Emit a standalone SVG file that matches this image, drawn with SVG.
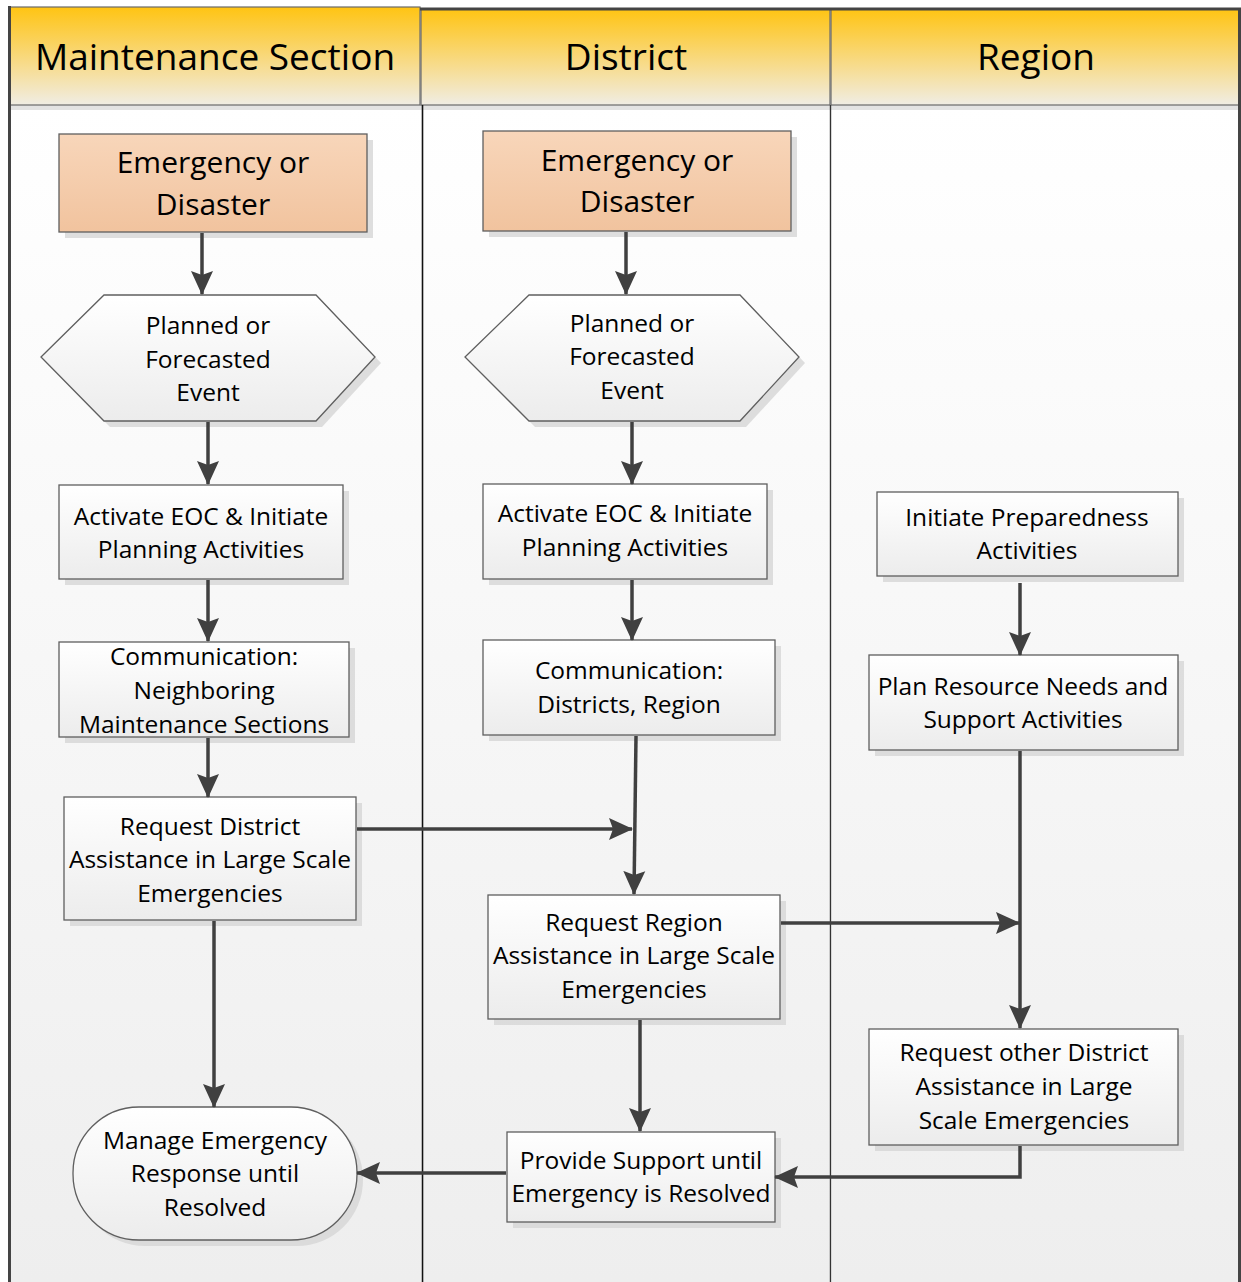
<svg xmlns="http://www.w3.org/2000/svg" width="1241" height="1282" viewBox="0 0 1241 1282">
<style>
.hdr{font-family:"Open Sans","Noto Sans",sans-serif;font-size:37px;fill:#000;text-anchor:middle}
.t{font-family:"Open Sans","Noto Sans",sans-serif;font-size:24.5px;fill:#000;text-anchor:middle}
.tb{font-family:"Open Sans","Noto Sans",sans-serif;font-size:30px;fill:#000;text-anchor:middle}
.box{fill:url(#nodeGrad);stroke:#5f5f5f;stroke-width:1.3}
.start{fill:url(#startGrad);stroke:#5f5f5f;stroke-width:1.3}
.sh{fill:#d6d6d6;opacity:0.8}
.conn{fill:none;stroke:#404040;stroke-width:3.5;marker-end:url(#arr)}
.lane{fill:url(#laneGrad)}
.head{fill:url(#headGrad)}
</style>
<defs>
<linearGradient id="laneGrad" x1="0" y1="0" x2="0" y2="1">
<stop offset="0" stop-color="#ffffff"/>
<stop offset="1" stop-color="#eeeeee"/>
</linearGradient>
<linearGradient id="headGrad" x1="0" y1="0" x2="0" y2="1">
<stop offset="0" stop-color="#ffc413"/>
<stop offset="0.6" stop-color="#f7dc8f"/>
<stop offset="1" stop-color="#f0ede4"/>
</linearGradient>
<linearGradient id="nodeGrad" x1="0" y1="0" x2="0" y2="1">
<stop offset="0" stop-color="#ffffff"/>
<stop offset="1" stop-color="#ececec"/>
</linearGradient>
<linearGradient id="startGrad" x1="0" y1="0" x2="0" y2="1">
<stop offset="0" stop-color="#f8d6ba"/>
<stop offset="1" stop-color="#f1c39e"/>
</linearGradient>
<marker id="arr" viewBox="0 0 24 24" refX="23" refY="12" markerWidth="24" markerHeight="24" markerUnits="userSpaceOnUse" orient="auto">
<path d="M0,1 L24,12 L0,23 L4,12 z" fill="#404040"/>
</marker>
</defs>

<g id="background">
<rect x="0" y="0" width="1241" height="1282" fill="#ffffff"/>
<rect class="lane" x="10" y="105" width="411" height="1177"/>
<rect class="lane" x="423" y="105" width="407" height="1177"/>
<rect class="lane" x="832" y="105" width="408" height="1177"/>
<rect x="10" y="105" width="1230" height="5" fill="#e3e3e3"/>
</g>

<g id="lane-maintenance">
<rect class="head" x="9" y="7" width="411" height="98" stroke="#6a6a6a" stroke-width="1.2"/>
<text class="hdr" x="215" y="70">Maintenance Section</text>
</g>
<g id="lane-district">
<rect class="head" x="421" y="9" width="409" height="96" stroke="#6a6a6a" stroke-width="1.2"/>
<text class="hdr" x="626" y="70">District</text>
</g>
<g id="lane-region">
<rect class="head" x="831" y="9" width="409" height="96" stroke="#6a6a6a" stroke-width="1.2"/>
<text class="hdr" x="1036" y="70">Region</text>
</g>

<g id="frame">
<line x1="420" y1="9" x2="1241" y2="9" stroke="#444" stroke-width="3"/>
<line x1="9.5" y1="6" x2="9.5" y2="1282" stroke="#444" stroke-width="3"/>
<line x1="1239.5" y1="8" x2="1239.5" y2="1282" stroke="#444" stroke-width="3"/>
<line x1="422.5" y1="105" x2="422.5" y2="1282" stroke="#111" stroke-width="1.6"/>
<line x1="830.5" y1="105" x2="830.5" y2="1282" stroke="#333" stroke-width="1.4"/>
</g>

<g id="ms-emergency">
<rect class="sh" x="65" y="140" width="308" height="98"/>
<rect class="start" x="59" y="134" width="308" height="98"/>
<text class="tb" x="213" y="173">Emergency or</text>
<text class="tb" x="213" y="215">Disaster</text>
</g>
<g id="ms-planned">
<polygon class="sh" points="47,363 110,301 322,301 381,363 322,427 110,427"/>
<polygon class="box" points="41,357 104,295 316,295 375,357 316,421 104,421"/>
<text class="t" x="208" y="334">Planned or</text>
<text class="t" x="208" y="368">Forecasted</text>
<text class="t" x="208" y="401">Event</text>
</g>
<g id="ms-activate">
<rect class="sh" x="65" y="491" width="284" height="94"/>
<rect class="box" x="59" y="485" width="284" height="94"/>
<text class="t" x="201" y="525">Activate EOC &amp; Initiate</text>
<text class="t" x="201" y="558">Planning Activities</text>
</g>
<g id="ms-communication">
<rect class="sh" x="65" y="648" width="290" height="95"/>
<rect class="box" x="59" y="642" width="290" height="95"/>
<text class="t" x="204" y="665">Communication:</text>
<text class="t" x="204" y="699">Neighboring</text>
<text class="t" x="204" y="733">Maintenance Sections</text>
</g>
<g id="ms-request">
<rect class="sh" x="70" y="803" width="292" height="123"/>
<rect class="box" x="64" y="797" width="292" height="123"/>
<text class="t" x="210" y="835">Request District</text>
<text class="t" x="210" y="868">Assistance in Large Scale</text>
<text class="t" x="210" y="902">Emergencies</text>
</g>
<g id="ms-manage">
<rect class="sh" x="79" y="1113" width="284" height="133" rx="66" ry="66"/>
<rect class="box" x="73" y="1107" width="284" height="133" rx="66" ry="66"/>
<text class="t" x="215" y="1149">Manage Emergency</text>
<text class="t" x="215" y="1182">Response until</text>
<text class="t" x="215" y="1216">Resolved</text>
</g>

<g id="d-emergency">
<rect class="sh" x="489" y="137" width="308" height="100"/>
<rect class="start" x="483" y="131" width="308" height="100"/>
<text class="tb" x="637" y="171">Emergency or</text>
<text class="tb" x="637" y="212">Disaster</text>
</g>
<g id="d-planned">
<polygon class="sh" points="471,363 535,301 746,301 805,363 746,427 535,427"/>
<polygon class="box" points="465,357 529,295 740,295 799,357 740,421 529,421"/>
<text class="t" x="632" y="332">Planned or</text>
<text class="t" x="632" y="365">Forecasted</text>
<text class="t" x="632" y="399">Event</text>
</g>
<g id="d-activate">
<rect class="sh" x="489" y="490" width="284" height="95"/>
<rect class="box" x="483" y="484" width="284" height="95"/>
<text class="t" x="625" y="522">Activate EOC &amp; Initiate</text>
<text class="t" x="625" y="556">Planning Activities</text>
</g>
<g id="d-communication">
<rect class="sh" x="489" y="646" width="292" height="95"/>
<rect class="box" x="483" y="640" width="292" height="95"/>
<text class="t" x="629" y="679">Communication:</text>
<text class="t" x="629" y="713">Districts, Region</text>
</g>
<g id="d-request">
<rect class="sh" x="494" y="901" width="292" height="124"/>
<rect class="box" x="488" y="895" width="292" height="124"/>
<text class="t" x="634" y="931">Request Region</text>
<text class="t" x="634" y="964">Assistance in Large Scale</text>
<text class="t" x="634" y="998">Emergencies</text>
</g>
<g id="d-provide">
<rect class="sh" x="513" y="1138" width="268" height="90"/>
<rect class="box" x="507" y="1132" width="268" height="90"/>
<text class="t" x="641" y="1169">Provide Support until</text>
<text class="t" x="641" y="1202">Emergency is Resolved</text>
</g>

<g id="r-initiate">
<rect class="sh" x="883" y="498" width="301" height="84"/>
<rect class="box" x="877" y="492" width="301" height="84"/>
<text class="t" x="1027" y="526">Initiate Preparedness</text>
<text class="t" x="1027" y="559">Activities</text>
</g>
<g id="r-plan">
<rect class="sh" x="875" y="661" width="309" height="95"/>
<rect class="box" x="869" y="655" width="309" height="95"/>
<text class="t" x="1023" y="695">Plan Resource Needs and</text>
<text class="t" x="1023" y="728">Support Activities</text>
</g>
<g id="r-request">
<rect class="sh" x="875" y="1035" width="309" height="116"/>
<rect class="box" x="869" y="1029" width="309" height="116"/>
<text class="t" x="1024" y="1061">Request other District</text>
<text class="t" x="1024" y="1095">Assistance in Large</text>
<text class="t" x="1024" y="1129">Scale Emergencies</text>
</g>

<g id="connectors">
<path class="conn" d="M202,233 L202,294"/>
<path class="conn" d="M208,422 L208,484"/>
<path class="conn" d="M208,580 L208,641"/>
<path class="conn" d="M208,738 L208,797"/>
<path class="conn" d="M357,829 L632,829"/>
<path class="conn" d="M214,921 L214,1107"/>
<path class="conn" d="M626,232 L626,294"/>
<path class="conn" d="M632,422 L632,484"/>
<path class="conn" d="M632,580 L632,640"/>
<path class="conn" d="M636,736 L634,894"/>
<path class="conn" d="M781,923 L1019,923"/>
<path class="conn" d="M1020,583 L1020,655"/>
<path class="conn" d="M1020,751 L1020,1028"/>
<path class="conn" d="M640,1020 L640,1131"/>
<path class="conn" d="M1020,1146 L1020,1177 L775,1177"/>
<path class="conn" d="M506,1173 L357,1173"/>
</g>
</svg>
